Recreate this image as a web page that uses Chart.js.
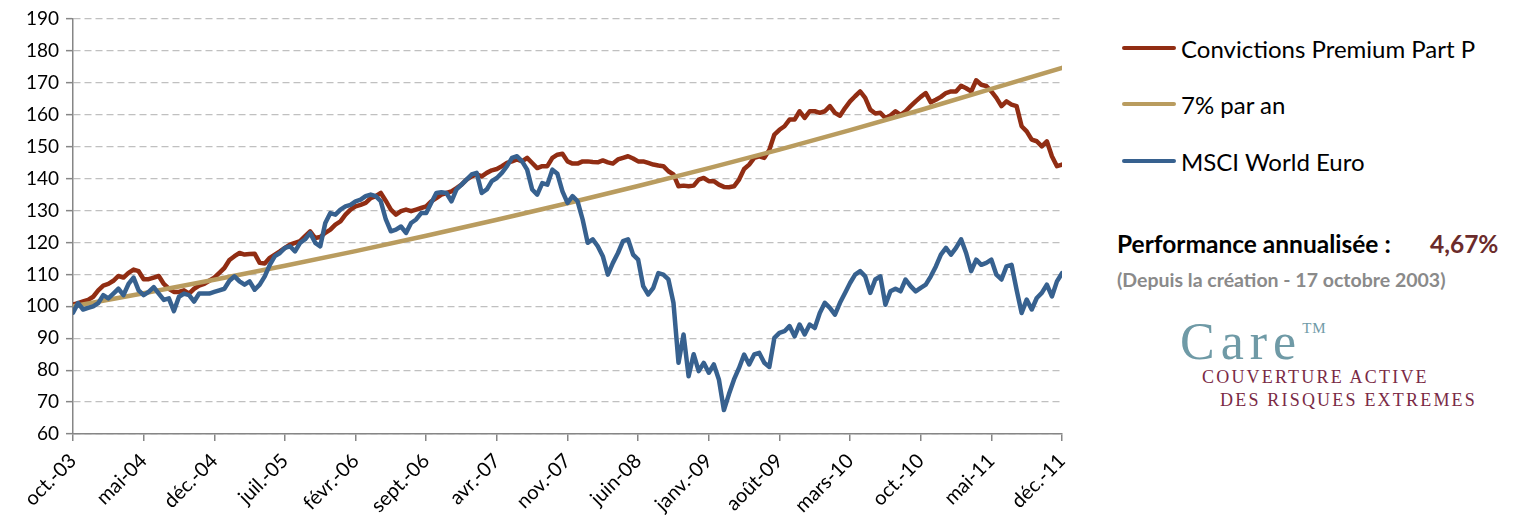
<!DOCTYPE html>
<html lang="fr">
<head>
<meta charset="utf-8">
<script src="https://cdn.jsdelivr.net/npm/chart.js@4.4.1/dist/chart.umd.min.js"></script>
<style>
  body { margin: 0; width: 1517px; height: 521px; background: #fff; position: relative; overflow: hidden; font-family: Lato, sans-serif; }
  #chartBox { position: absolute; left: 0; top: 0; width: 1077px; height: 521px; }
  .legend-row { position: absolute; left: 1122px; height: 30px; display: flex; align-items: center; font-size: 24px; color: #000; white-space: nowrap; }
  .legend-row i { display: inline-block; width: 54px; height: 4.5px; border-radius: 2px; margin-right: 5px; }
  #perf { position: absolute; left: 1117px; top: 229px; font-size: 24.5px; font-weight: bold; color: #000; white-space: nowrap; }
  #perf span { position: absolute; left: 313px; color: #6b2b2b; }
  #since { position: absolute; left: 1117px; top: 268px; font-size: 19.5px; font-weight: bold; color: #8a8a8a; white-space: nowrap; }
  #care { position: absolute; left: 1180px; top: 312px; font-family: 'Liberation Serif', serif; font-size: 52px; letter-spacing: 6px; color: #6f9aa6; white-space: nowrap; }
  #care sup { font-size: 15px; letter-spacing: 1px; vertical-align: 26px; }
  .care-sub { position: absolute; font-family: 'Liberation Serif', serif; font-size: 18px; letter-spacing: 2.2px; color: #7a2a45; white-space: nowrap; }
</style>
</head>
<body>
<div id="chartBox"><canvas id="perfChart"></canvas></div>
<div id="legend"></div>
<div id="perf">Performance annualisée :<span>4,67%</span></div>
<div id="since">(Depuis la création - 17 octobre 2003)</div>
<div id="care">Care<sup>TM</sup></div>
<div class="care-sub" style="left:1202px; top:367px;">COUVERTURE ACTIVE</div>
<div class="care-sub" style="left:1220px; top:390px;">DES RISQUES EXTREMES</div>
<script>
'use strict';

// étiquettes de l'axe, une tous les 7 mois
const tickLabels = [
  'oct.-03', 'mai-04', 'déc.-04', 'juil.-05', 'févr.-06', 'sept.-06', 'avr.-07', 'nov.-07',
  'juin-08', 'janv.-09', 'août-09', 'mars-10', 'oct.-10', 'mai-11', 'déc.-11',
];

// un point tous les demi-mois depuis oct. 2003
const convictions = [
  100.5, 101, 101.5, 102, 103, 105, 106.5, 107, 108, 109.5, 109, 110.5, 111.5, 111, 108.5, 108.5,
  109, 109.5, 107, 105.5, 104.5, 104.5, 105, 104, 105.5, 106.5, 107, 108, 109, 110.5, 112, 114.5,
  115.7, 116.7, 116.2, 116.4, 116.5, 113.6, 113.4, 115.2, 116.2, 117.2, 118.3, 119.3, 119.9, 120.4, 122, 123.5,
  121.4, 121.7, 123, 124, 125.6, 126.6, 128.7, 130.3, 131.3, 131.8, 132.4, 133.9, 134.5, 135.5, 133, 130.3,
  128.7, 129.8, 130.3, 129.8, 130.3, 130.8, 131.3, 132.9, 133.9, 135, 135.5, 136, 137, 138.1, 139.7, 140.7,
  141.3, 140.7, 141.8, 142.6, 143, 143.9, 144.9, 145.4, 146, 145.4, 146.5, 144.9, 143.3, 143.9, 143.9, 146.5,
  147.5, 147.8, 145.4, 144.7, 144.7, 145.4, 145.4, 145.2, 145.1, 145.7, 145.1, 144.7, 146, 146.5, 147, 146.3,
  145.4, 145.4, 144.9, 144.4, 144.1, 143.9, 142.3, 141.3, 137.6, 137.8, 137.6, 137.8, 139.7, 140.2, 139.2, 139.2,
  138.1, 137.4, 137.3, 137.6, 139.7, 143, 144.4, 146.5, 147, 146.5, 149, 153.8, 155.3, 156.4, 158.5, 158.5,
  161.1, 159, 161.1, 161.1, 160.6, 161.1, 162.7, 160.6, 159.7, 162.1, 164.2, 165.8, 167.3, 165.3, 161.6, 160.4,
  160.6, 159, 159.8, 161.1, 160, 161.1, 162.7, 164.2, 165.6, 166.8, 163.9, 164.7, 165.6, 166.8, 167.3, 167.3,
  169.1, 168.3, 167.3, 170.8, 169.4, 169, 167.3, 165.3, 162.7, 164.2, 163.2, 162.7, 156.4, 154.8, 152.2, 151.7,
  150.1, 151.7, 147, 143.9, 144.4,
];

const msciWorld = [
  98, 101, 99, 99.5, 100, 101, 103.5, 102.5, 104, 105.5, 103.5, 107, 109, 105, 103.5, 104.5,
  106, 104, 102, 102.5, 98.5, 103, 104, 103.5, 101.5, 104, 104, 104, 104.5, 105, 105.5, 108,
  109.4, 107.8, 106.8, 107.8, 105.2, 106.8, 109.4, 113, 115.7, 116.7, 118.3, 118.8, 117.2, 119.9, 121, 123,
  119.9, 118.8, 126.1, 129.2, 128.7, 130.3, 131.3, 131.8, 132.9, 133.4, 134.5, 135, 134.5, 132.9, 127.2, 123.5,
  124, 125, 123, 126.1, 127.2, 129.2, 129.2, 132.4, 135.5, 135.7, 135.5, 132.9, 136.6, 138.1, 139.7, 141.3,
  141.8, 135.5, 136.6, 139.2, 140.2, 141.8, 143.9, 146.5, 147, 145.4, 142.8, 136.6, 135, 138.6, 138.1, 142.8,
  141.5, 136, 132.4, 134.5, 132.9, 127.2, 119.9, 121, 118.8, 115.7, 109.9, 113.6, 116.7, 120.4, 121, 116.2,
  114.6, 106.3, 103.7, 105.8, 110.4, 109.9, 108.4, 101.1, 82.3, 91.2, 78.1, 85, 79.7, 82.3, 79.2, 81.8,
  77.1, 67.5, 72.5, 77.1, 80.7, 84.9, 81.8, 84.9, 85.4, 82.3, 81, 90.1, 91.7, 92.2, 93.8, 90.6,
  94.3, 91.2, 94.3, 93.2, 97.9, 101.1, 99.5, 97.4, 101.1, 104.2, 107.3, 109.9, 111, 109.4, 104.2, 108.4,
  109.4, 100.5, 104.7, 105.5, 104.7, 108.4, 106.3, 104.7, 105.8, 106.8, 109.4, 112.5, 116.2, 118.3, 116.2, 118.3,
  121, 116.7, 111, 114.6, 113, 113.6, 114.6, 109.9, 108.4, 112.5, 113, 105.2, 97.9, 102.1, 99, 102.6,
  104.2, 106.8, 103.1, 107.8, 110.4,
];

// 7% par an, relevé à chaque étiquette (tous les 7 mois)
const septPourcent = [
  100, 104.1, 108.3, 112.7, 117.3, 122.1, 127.1, 132.3, 137.7, 143.3, 149.1, 155.2, 161.5, 168.1, 174.7,
];

const seriesNames = ['Convictions Premium Part P', '7% par an', 'MSCI World Euro'];
const seriesColors = ['#912d13', '#b99c5f', '#37618f'];

// pas en mois entre deux valeurs
const toPoints = (values, step) => values.map((v, i) => ({ x: i * step, y: v }));

document.addEventListener('DOMContentLoaded', () => {
  // Légende à droite
  const legend = document.getElementById('legend');
  const rowTops = [33, 89, 146];
  seriesNames.forEach((name, i) => {
    const row = document.createElement('div');
    row.className = 'legend-row';
    row.style.top = rowTops[i] + 'px';
    const swatch = document.createElement('i');
    swatch.style.background = seriesColors[i];
    row.appendChild(swatch);
    row.appendChild(document.createTextNode(name));
    legend.appendChild(row);
  });

  const ctx = document.getElementById('perfChart').getContext('2d');
  new Chart(ctx, {
    type: 'line',
    data: {
      datasets: [
        { label: seriesNames[0], data: toPoints(convictions, 0.5), borderColor: seriesColors[0], order: 3 },
        { label: seriesNames[1], data: toPoints(septPourcent, 7), borderColor: seriesColors[1], order: 2 },
        { label: seriesNames[2], data: toPoints(msciWorld, 0.5), borderColor: seriesColors[2], order: 1 },
      ],
    },
    options: {
      responsive: true,
      maintainAspectRatio: false,
      animation: false,
      layout: { padding: { top: 19, right: 15, left: 0, bottom: 0 } },
      plugins: {
        legend: { display: false },
        tooltip: { enabled: false },
      },
      elements: {
        point: { radius: 0 },
        line: { borderWidth: 4.5, tension: 0, borderJoinStyle: 'round', borderCapStyle: 'round' },
      },
      scales: {
        x: {
          type: 'linear',
          min: 0,
          max: 98,
          ticks: {
            stepSize: 7,
            autoSkip: false,
            maxRotation: 45,
            minRotation: 45,
            padding: 8,
            color: '#000',
            font: { family: 'Lato', size: 20 },
            callback: value => tickLabels[value / 7] ?? '',
          },
          grid: { drawOnChartArea: false, tickLength: 7, color: '#868686', lineWidth: 1.5 },
          border: { color: '#868686', width: 1.5 },
          afterFit: scale => {
            scale.height = 87;
            scale.paddingLeft = 0;
            scale.paddingRight = 0;
          },
        },
        y: {
          min: 60,
          max: 190,
          ticks: { stepSize: 10, padding: 7, color: '#000', font: { family: 'Lato', size: 19 } },
          grid: { color: '#c0c0c0', lineWidth: 1.3, tickLength: 7, tickColor: '#868686', tickWidth: 1.5 },
          border: { color: '#868686', width: 1.5, dash: [7, 4] },
          afterFit: scale => { scale.width = 73; },
        },
      },
    },
  });
});
</script>
</body>
</html>
